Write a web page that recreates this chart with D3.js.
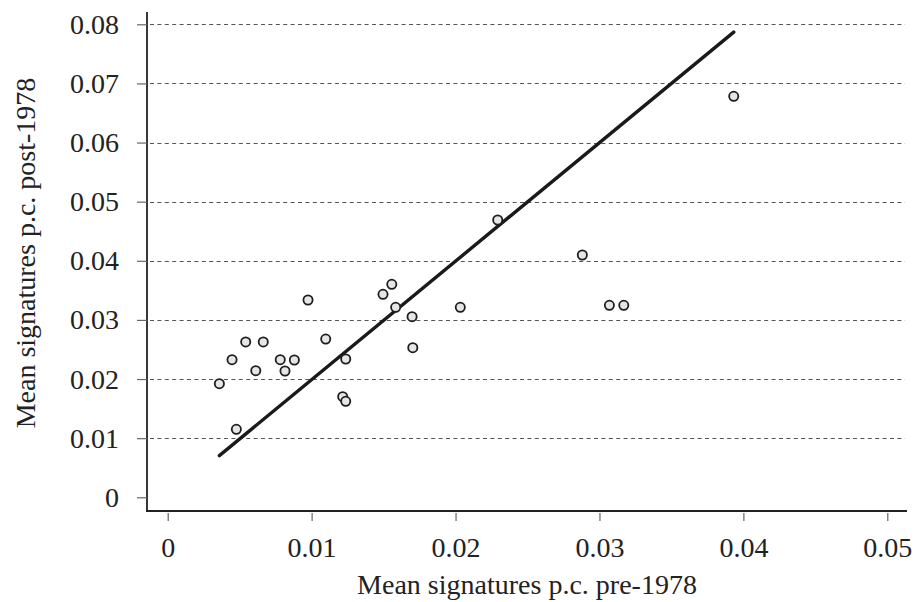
<!DOCTYPE html>
<html>
<head>
<meta charset="utf-8">
<script src="https://cdn.jsdelivr.net/npm/d3@7"></script>
<style>
  html, body { margin: 0; padding: 0; background: #fff; }
  svg { display: block; font-family: "Liberation Serif", "DejaVu Serif", serif; }
</style>
</head>
<body>
<svg id="chart" width="919" height="602"></svg>
<script>
(function() {
  'use strict';

  // mean signatures per capita, one point per unit
  var preMeans = [0.00359, 0.00477, 0.00447, 0.00542, 0.00664, 0.00612, 0.00782, 0.0088,
    0.00815, 0.00975, 0.01098, 0.01237, 0.01216, 0.01237, 0.01496, 0.01557, 0.01584,
    0.01698, 0.01703, 0.02033, 0.02293, 0.02881, 0.03069, 0.03169, 0.03933];
  var postMeans = [0.01921, 0.0115, 0.02327, 0.02627, 0.02627, 0.02141, 0.02327, 0.02322,
    0.02136, 0.03337, 0.02677, 0.02339, 0.01701, 0.01624, 0.03433, 0.03603, 0.03214,
    0.03055, 0.0253, 0.03214, 0.0469, 0.04098, 0.03247, 0.03247, 0.06782];

  // fitted line
  var fitSlope = 2.004;
  var fitIntercept = -0.00014;

  var xTicks = [0, 0.01, 0.02, 0.03, 0.04, 0.05];
  var yTicks = [0, 0.01, 0.02, 0.03, 0.04, 0.05, 0.06, 0.07, 0.08];
  var xTitle = "Mean signatures p.c. pre-1978";
  var yTitle = "Mean signatures p.c. post-1978";

  var serif = "'Liberation Serif', 'DejaVu Serif', serif";
  var svg = d3.select("#chart");

  var x = d3.scaleLinear().domain([0, 0.05]).range([167.7, 887.3]);
  var y = d3.scaleLinear().domain([0, 0.08]).range([497.3, 24.3]);

  var fmt = function(d) { return d === 0 ? "0" : d3.format(".2f")(d); };

  // dashed grid
  svg.append("g")
    .attr("class", "grid")
    .selectAll("line")
    .data(yTicks.filter(function(d) { return d > 0; }))
    .enter().append("line")
      .attr("x1", 150)
      .attr("x2", 905)
      .attr("y1", function(d) { return Math.round(y(d)) + 0.5; })
      .attr("y2", function(d) { return Math.round(y(d)) + 0.5; })
      .attr("stroke", "#555")
      .attr("stroke-width", 1)
      .attr("stroke-dasharray", "4,3.4");

  // axis lines
  svg.append("line")
    .attr("x1", 147).attr("x2", 147)
    .attr("y1", 12).attr("y2", 512)
    .attr("stroke", "#222").attr("stroke-width", 1.8);
  svg.append("line")
    .attr("x1", 146).attr("x2", 907)
    .attr("y1", 511).attr("y2", 511)
    .attr("stroke", "#222").attr("stroke-width", 1.8);

  var xAxis = svg.append("g")
    .attr("transform", "translate(0,513)")
    .call(d3.axisBottom(x).tickValues(xTicks).tickFormat(fmt).tickSize(8));
  xAxis.attr("font-family", serif).attr("font-size", 28);
  xAxis.select(".domain").remove();
  xAxis.selectAll(".tick line").attr("stroke", "#666").attr("stroke-width", 1.2);
  xAxis.selectAll(".tick text")
    .attr("y", 44)
    .attr("dy", null)
    .attr("fill", "#222");

  var yAxis = svg.append("g")
    .attr("transform", "translate(147,0)")
    .call(d3.axisLeft(y).tickValues(yTicks).tickFormat(fmt).tickSize(10));
  yAxis.attr("font-family", serif).attr("font-size", 28);
  yAxis.select(".domain").remove();
  yAxis.selectAll(".tick line").attr("stroke", "#666").attr("stroke-width", 1.2);
  yAxis.selectAll(".tick text")
    .attr("x", -28)
    .attr("dy", 9)
    .attr("fill", "#222");

  // fitted line over the range of the data
  var xMin = d3.min(preMeans);
  var xMax = d3.max(preMeans);
  svg.append("line")
    .attr("x1", x(xMin))
    .attr("y1", y(fitIntercept + fitSlope * xMin))
    .attr("x2", x(xMax))
    .attr("y2", y(fitIntercept + fitSlope * xMax))
    .attr("stroke", "#1a1a1a")
    .attr("stroke-width", 3.4)
    .attr("stroke-linecap", "round");

  // points
  svg.append("g")
    .selectAll("circle")
    .data(preMeans)
    .enter().append("circle")
      .attr("cx", function(d) { return x(d); })
      .attr("cy", function(d, i) { return y(postMeans[i]); })
      .attr("r", 4.6)
      .attr("fill", "#e6e6e6")
      .attr("stroke", "#1e1e1e")
      .attr("stroke-width", 1.8);

  // titles
  svg.append("text")
    .attr("x", 527)
    .attr("y", 594)
    .attr("text-anchor", "middle")
    .attr("fill", "#222")
    .style("font-size", "28px")
    .text(xTitle);

  svg.append("text")
    .attr("transform", "translate(35,253) rotate(-90)")
    .attr("text-anchor", "middle")
    .attr("fill", "#222")
    .style("font-size", "28px")
    .text(yTitle);
}());
</script>
</body>
</html>
